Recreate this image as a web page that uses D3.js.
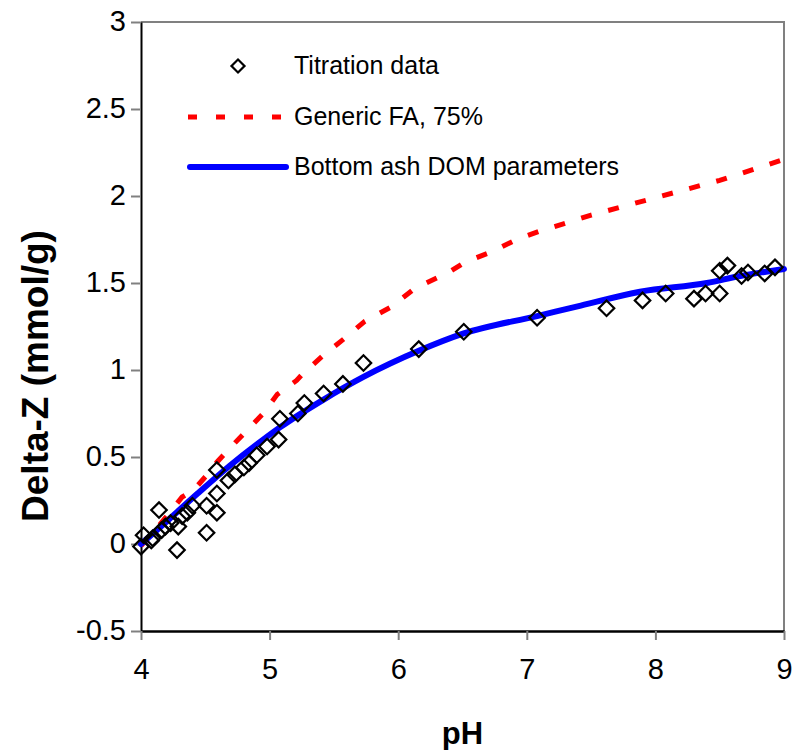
<!DOCTYPE html>
<html>
<head>
<meta charset="utf-8">
<script src="https://cdn.jsdelivr.net/npm/d3@7"></script>
<style>
  body { margin: 0; background: #fff; }
  text { font-family: "Liberation Sans", Arial, sans-serif; }
</style>
</head>
<body>
<svg id="chart" width="806" height="750"></svg>
<script>
// titration points [pH, delta-Z]
const titration = [
  [4.00, -0.015], [4.02, 0.05], [4.08, 0.02], [4.09, 0.033], [4.14, 0.195],
  [4.16, 0.08], [4.19, 0.10], [4.23, 0.12], [4.28, -0.035], [4.29, 0.10],
  [4.32, 0.16], [4.36, 0.18], [4.40, 0.22], [4.51, 0.065], [4.51, 0.22],
  [4.59, 0.18], [4.59, 0.29], [4.59, 0.425], [4.68, 0.365], [4.73, 0.40],
  [4.80, 0.44], [4.84, 0.465], [4.90, 0.51], [4.98, 0.56], [5.07, 0.60],
  [5.08, 0.72], [5.22, 0.75], [5.27, 0.81], [5.42, 0.865], [5.57, 0.92],
  [5.73, 1.04], [6.16, 1.12], [6.51, 1.22], [7.08, 1.30], [7.62, 1.355],
  [7.90, 1.40], [8.08, 1.44], [8.30, 1.41], [8.39, 1.44], [8.50, 1.44],
  [8.50, 1.57], [8.56, 1.60], [8.67, 1.54], [8.72, 1.56], [8.85, 1.555],
  [8.93, 1.59]
];

// generic FA 75% model
const genericFA = [
  [4.00, -0.01], [4.10, 0.07], [4.20, 0.16], [4.32, 0.27], [4.41, 0.31],
  [4.54, 0.42], [4.59, 0.47], [4.69, 0.55], [4.82, 0.65], [4.95, 0.75],
  [5.06, 0.86], [5.11, 0.885], [5.21, 0.94], [5.26, 0.98], [5.42, 1.086],
  [5.58, 1.18], [5.74, 1.28], [5.94, 1.36], [6.13, 1.47], [6.38, 1.556],
  [6.52, 1.62], [6.73, 1.68], [6.92, 1.75], [7.09, 1.795], [7.50, 1.89],
  [8.00, 1.99], [8.50, 2.09], [9.00, 2.21]
];

// bottom ash DOM parameters model
const bottomAsh = [
  [4.00, 0.0], [4.20, 0.13], [4.44, 0.29], [4.69, 0.45], [4.95, 0.60],
  [5.08, 0.67], [5.42, 0.83], [5.73, 0.96], [6.16, 1.11], [6.51, 1.21],
  [7.08, 1.31], [7.42, 1.37], [7.88, 1.45], [8.40, 1.50], [8.66, 1.54],
  [9.00, 1.58]
];

const xTicks = [4, 5, 6, 7, 8, 9];
const yTicks = [-0.5, 0, 0.5, 1, 1.5, 2, 2.5, 3];
const legendLabels = ["Titration data", "Generic FA, 75%", "Bottom ash DOM parameters"];

const plot = { left: 141, right: 784, top: 22, bottom: 631 };

const svg = d3.select("#chart");

const x = d3.scaleLinear().domain([4, 9]).range([plot.left, plot.right]);
const y = d3.scaleLinear().domain([-0.5, 3]).range([plot.bottom, plot.top]);

// gray frame on top and right
svg.append("path")
  .attr("d", `M${plot.left},${plot.top}H${plot.right}V${plot.bottom}`)
  .attr("fill", "none")
  .attr("stroke", "#808080")
  .attr("stroke-width", 2);

// y axis
const yAxis = svg.append("g")
  .attr("transform", `translate(${plot.left},0)`)
  .call(d3.axisLeft(y).tickValues(yTicks).tickSize(10).tickSizeOuter(0).tickPadding(5)
    .tickFormat(d => String(d)));
yAxis.select(".domain").attr("stroke", "#000").attr("stroke-width", 2);
yAxis.selectAll(".tick line").attr("stroke", "#808080").attr("stroke-width", 2);
yAxis.selectAll(".tick text")
  .attr("font-size", 29).attr("font-family", "Liberation Sans, Arial, sans-serif")
  .attr("fill", "#000").attr("dy", "0.3em");

// x axis
const xAxis = svg.append("g")
  .attr("transform", `translate(0,${plot.bottom})`)
  .call(d3.axisBottom(x).tickValues(xTicks).tickSize(9).tickSizeOuter(0).tickPadding(18)
    .tickFormat(d => String(d)));
xAxis.select(".domain").attr("stroke", "#000").attr("stroke-width", 2.5);
xAxis.selectAll(".tick line").attr("stroke", "#808080").attr("stroke-width", 2);
xAxis.selectAll(".tick text")
  .attr("font-size", 29).attr("font-family", "Liberation Sans, Arial, sans-serif")
  .attr("fill", "#000");

// axis titles
svg.append("text")
  .attr("transform", `translate(48,376) rotate(-90)`)
  .attr("text-anchor", "middle")
  .attr("font-size", 37)
  .attr("font-weight", "bold")
  .text("Delta-Z (mmol/g)");

svg.append("text")
  .attr("x", (plot.left + plot.right) / 2)
  .attr("y", 744)
  .attr("text-anchor", "middle")
  .attr("font-size", 31)
  .attr("font-weight", "bold")
  .text("pH");

const line = d3.line().x(d => x(d[0])).y(d => y(d[1]));

// model lines
svg.append("path")
  .datum(genericFA)
  .attr("d", line)
  .attr("fill", "none")
  .attr("stroke", "#ff0000")
  .attr("stroke-width", 5)
  .attr("stroke-dasharray", "11,17");

svg.append("path")
  .datum(bottomAsh)
  .attr("d", line.curve(d3.curveMonotoneX))
  .attr("fill", "none")
  .attr("stroke", "#0000ff")
  .attr("stroke-width", 6)
  .attr("stroke-linecap", "round")
  .attr("stroke-linejoin", "round");

// diamonds
const diamond = d3.symbol().type(d3.symbolSquare).size(120);
svg.append("g")
  .selectAll("path")
  .data(titration)
  .join("path")
  .attr("transform", d => `translate(${x(d[0])},${y(d[1])}) rotate(45)`)
  .attr("d", diamond)
  .attr("fill", "none")
  .attr("stroke", "#000")
  .attr("stroke-width", 2.2);

// legend
const lg = svg.append("g");
lg.append("path")
  .attr("transform", "translate(238,66) rotate(45)")
  .attr("d", d3.symbol().type(d3.symbolSquare).size(85))
  .attr("fill", "none")
  .attr("stroke", "#000")
  .attr("stroke-width", 2.2);
lg.append("line")
  .attr("x1", 188).attr("x2", 287).attr("y1", 117).attr("y2", 117)
  .attr("stroke", "#ff0000").attr("stroke-width", 5)
  .attr("stroke-dasharray", "9,19");
lg.append("line")
  .attr("x1", 190).attr("x2", 286).attr("y1", 167).attr("y2", 167)
  .attr("stroke", "#0000ff").attr("stroke-width", 6)
  .attr("stroke-linecap", "round");
lg.selectAll("text")
  .data(legendLabels)
  .join("text")
  .attr("x", 294)
  .attr("y", (d, i) => 74 + i * 50.5)
  .attr("font-size", 25)
  .text(d => d);
</script>
</body>
</html>
